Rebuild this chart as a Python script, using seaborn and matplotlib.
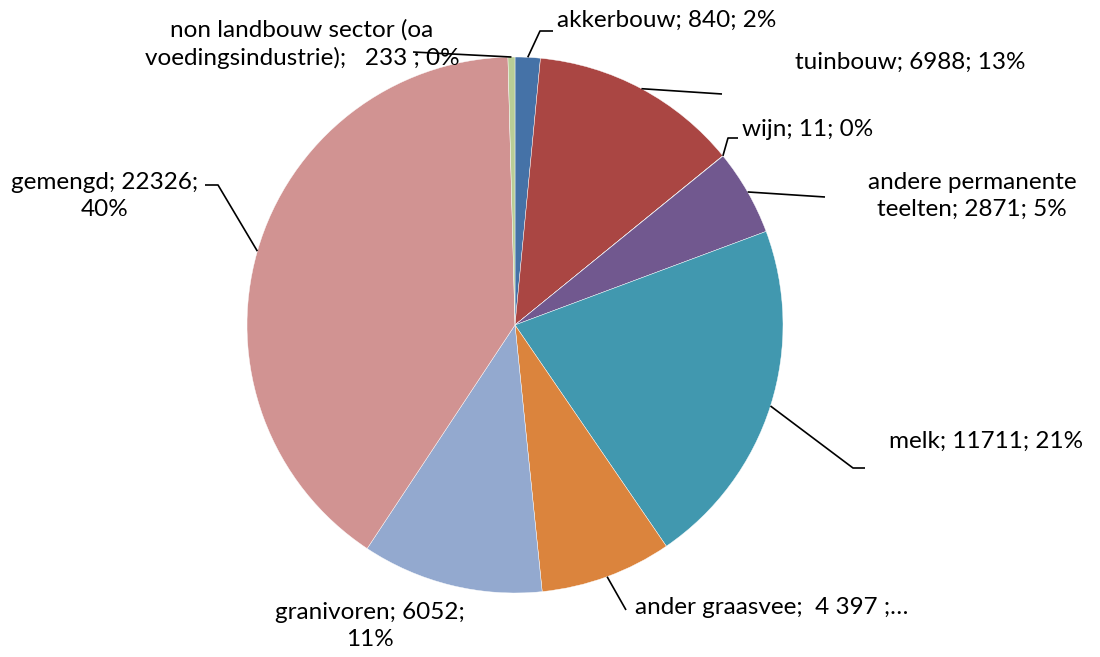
import numpy as np
import matplotlib
matplotlib.use("Agg")
import matplotlib.pyplot as plt
import seaborn as sns

# aantal bedrijven per sector
sectoren = ['akkerbouw', 'tuinbouw', 'wijn', 'andere permanente teelten', 'melk',
            'ander graasvee', 'granivoren', 'gemengd',
            'non landbouw sector (oa voedingsindustrie)']
aantallen = [840, 6988, 11, 2871, 11711, 4397, 6052, 22326, 233]
labels = ['akkerbouw; 840; 2%', 'tuinbouw; 6988; 13%', 'wijn; 11; 0%',
          'andere permanente\nteelten; 2871; 5%', 'melk; 11711; 21%',
          'ander graasvee;  4 397 ;…', 'granivoren; 6052;\n11%',
          'gemengd; 22326;\n40%',
          'non landbouw sector (oa\nvoedingsindustrie);   233 ; 0%']
kleuren = ['#4572A7', '#AA4643', '#89A54E', '#71588F', '#4198AF',
           '#DB843D', '#93A9CF', '#D19392', '#B9CD96']

# label plaatsing in pixels (x, y vanaf boven), uitlijning en knikpunten van de lijn
label_pos = [(557, 20, 'left'), (795, 62, 'left'), (742, 130, 'left'),
             (972, 196, 'center'), (889, 441, 'left'), (635, 608, 'left'),
             (370, 626, 'center'), (105, 196, 'center'), (302, 44, 'center')]
lijnen = [[(540, 31), (553, 31)], [(722, 94)], [(728, 138), (738, 138)],
          [(825, 197)], [(853, 468), (865, 468)], [(626, 610)], [],
          [(218, 185), (205, 185)], [(413, 52)]]

W, H = 1100, 657
cx, cy, r = 515, H - 325, 268

sns.set_theme(style='white')
plt.rcParams['font.family'] = ['Lato', 'DejaVu Sans']

fig = plt.figure(figsize=(11, 6.57), dpi=100)
ax = fig.add_axes([0, 0, 1, 1])
wedges, _ = ax.pie(aantallen, colors=kleuren, startangle=90, counterclock=False,
                   center=(cx, cy), radius=r,
                   wedgeprops=dict(edgecolor='white', linewidth=0.3))
ax.set_xlim(0, W)
ax.set_ylim(0, H)
ax.axis('off')

for w, lab, (tx, ty, ha), lijn in zip(wedges, labels, label_pos, lijnen):
    mid = np.deg2rad((w.theta1 + w.theta2) / 2)
    px, py = cx + r * np.cos(mid), cy + r * np.sin(mid)
    if lijn:
        xs = [px] + [p[0] for p in lijn]
        ys = [py] + [H - p[1] for p in lijn]
        ax.plot(xs, ys, color='black', lw=1.2, solid_capstyle='butt')
    ax.text(tx, H - ty, lab, ha=ha, va='center', fontsize=17.5,
            linespacing=1.35, multialignment='center', color='black')

fig.savefig('out.png', dpi=100)
